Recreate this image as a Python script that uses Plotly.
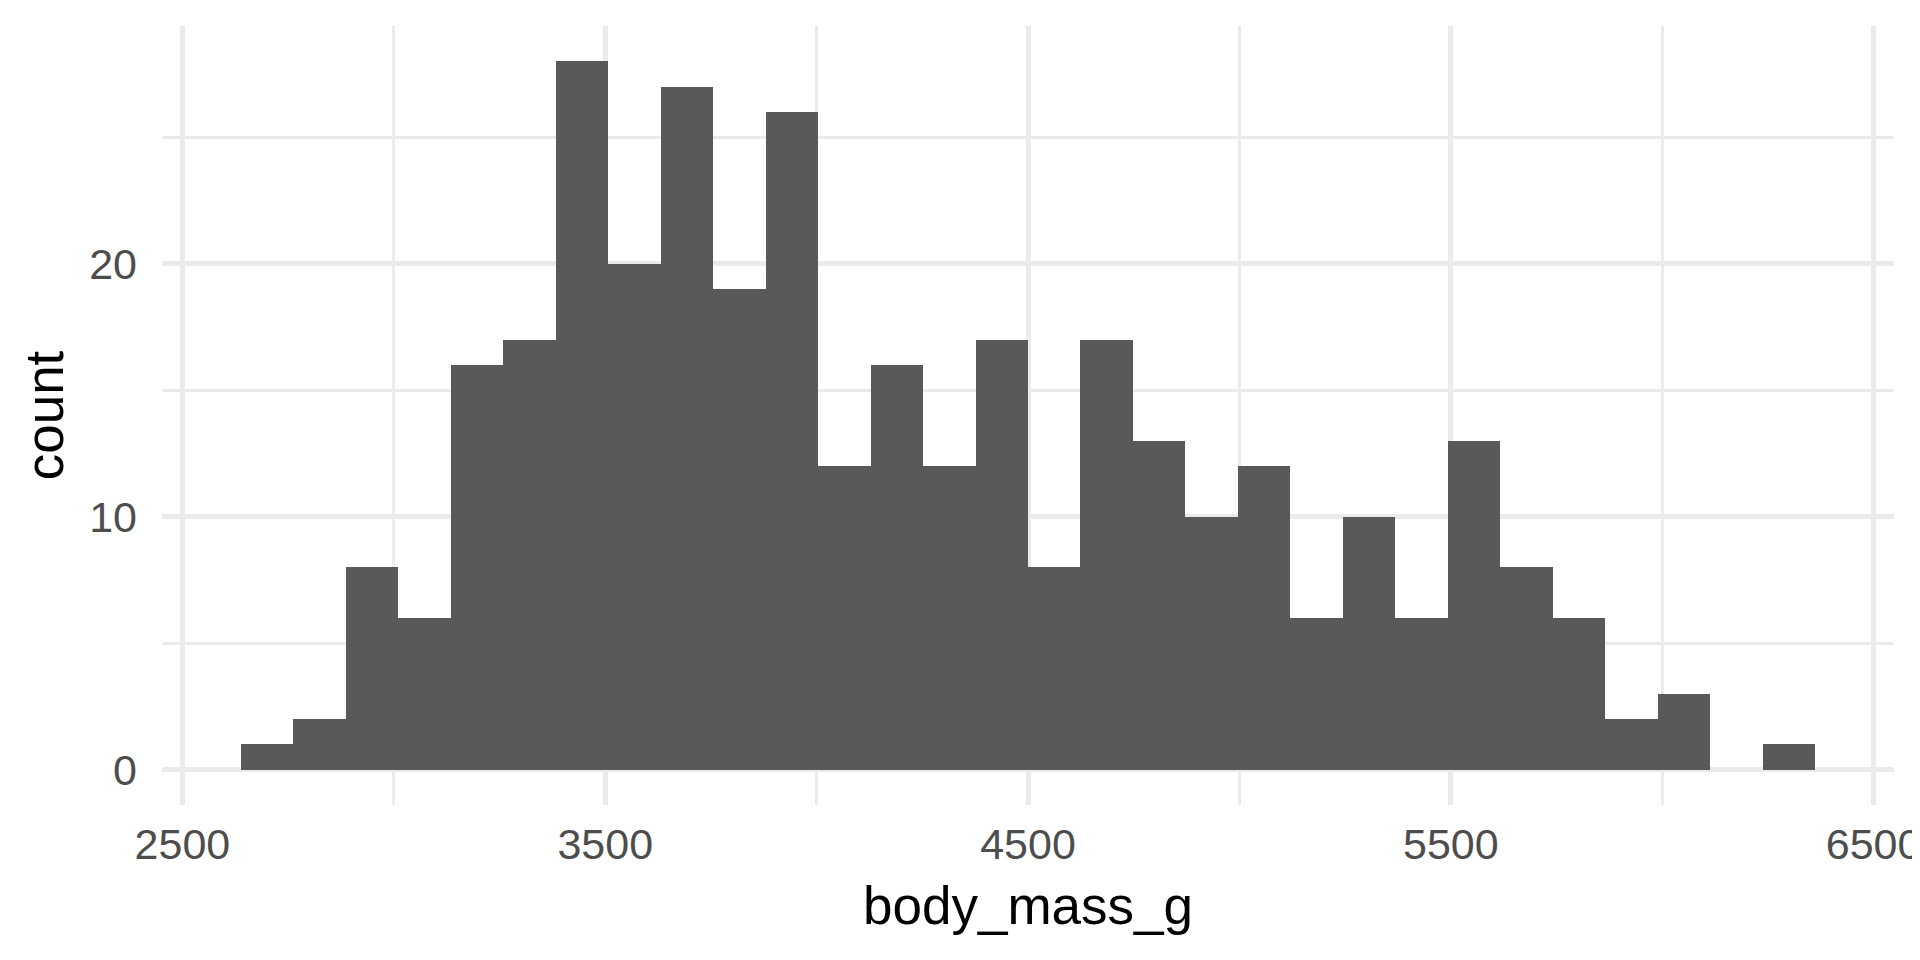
import numpy as np
import plotly.graph_objects as go

# histogram of body mass, 30 bins (binwidth = 3600/29)
bin_centers = np.linspace(2700, 6300, 30)
bin_width = 3600 / 29
counts = [1, 2, 8, 6, 16, 17, 28, 20, 27, 19,
          26, 12, 16, 12, 17, 8, 17, 13, 10, 12,
          6, 10, 6, 13, 8, 6, 2, 3, 0, 1]

x_ticks = [2500, 3500, 4500, 5500, 6500]
y_ticks = [0, 10, 20]

grid = "#EBEBEB"
font = "Liberation Sans, Arial, sans-serif"

trace = go.Bar(
    x=bin_centers,
    y=counts,
    width=bin_width,
    marker=dict(color="#595959", line=dict(width=0)),
    showlegend=False,
)

# size and margins allow for the 8px page margin of the html body
layout = go.Layout(
    width=1912, height=952,
    margin=dict(l=154, r=26, t=18, b=155),
    plot_bgcolor="white", paper_bgcolor="white",
    bargap=0,
    font=dict(family=font),
    xaxis=dict(
        range=[2451.7, 6548.3],
        tickvals=x_ticks,
        ticktext=[str(v) for v in x_ticks],
        showgrid=True, gridcolor=grid, gridwidth=5,
        minor=dict(tickvals=[3000, 4000, 5000, 6000], showgrid=True,
                   gridcolor=grid, gridwidth=2.5),
        zeroline=False, showline=False, ticks="",
        tickfont=dict(size=43, color="#4D4D4D"),
        ticklabelstandoff=10,
        ticklabeloverflow="allow",
        automargin=False,
        title=dict(text="body_mass_g", font=dict(size=53, color="black"), standoff=19),
    ),
    yaxis=dict(
        range=[-1.4, 29.4],
        tickvals=y_ticks,
        showgrid=True, gridcolor=grid, gridwidth=5,
        minor=dict(tickvals=[5, 15, 25], showgrid=True,
                   gridcolor=grid, gridwidth=2.5),
        zeroline=False, showline=False, ticks="",
        tickfont=dict(size=43, color="#4D4D4D"),
        ticklabelstandoff=24,
        automargin=False,
        title=dict(text="count", font=dict(size=53, color="black"), standoff=8),
    ),
)

fig = go.Figure(data=[trace], layout=layout)
fig.write_html("out.html")
